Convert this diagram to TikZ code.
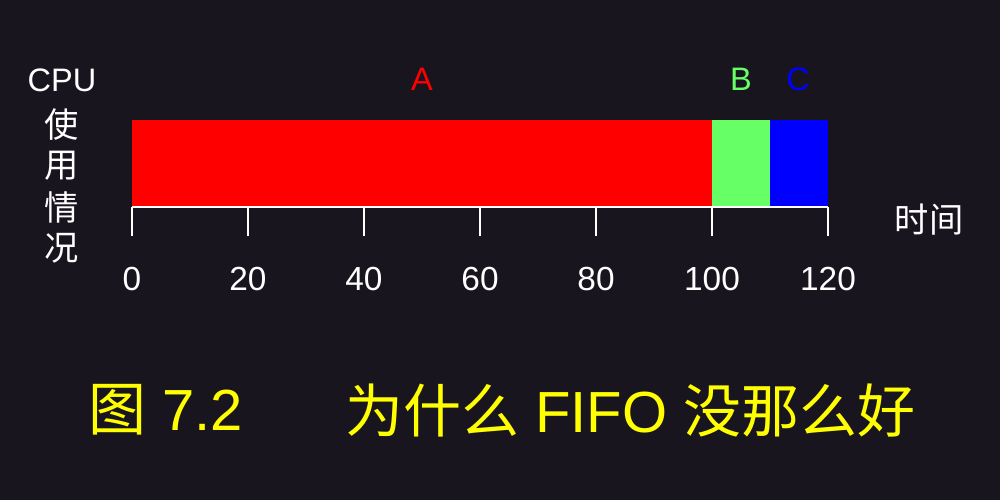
\documentclass[tikz,border=0pt]{standalone}
\usepackage{fontspec}
\setmainfont{Liberation Sans}
\newfontfamily\cjk{Noto Sans CJK SC}
\usetikzlibrary{positioning}
\definecolor{bgDark}{RGB}{24,21,30}
\definecolor{jobA}{HTML}{FF0000}
\definecolor{jobB}{HTML}{66FF66}
\definecolor{jobC}{HTML}{0000FF}
\definecolor{capYellow}{HTML}{FFFF00}

\begin{document}
\begin{tikzpicture}[
    x=0.2mm, y=-0.2mm,
    lbl/.style={font=\fontsize{18.5pt}{20pt}\selectfont, inner sep=0pt},
    cjklbl/.style={font=\cjk\fontsize{19.5pt}{21pt}\selectfont, text=white, inner sep=0pt},
    ticklbl/.style={font=\fontsize{19pt}{21pt}\selectfont, text=white, inner sep=0pt},
    caption/.style={font=\fontsize{33pt}{36pt}\selectfont, text=capYellow, inner sep=0pt},
  ]
    \fill[bgDark] (0,0) rectangle (1000,500);

    % bar segments
    \fill[jobA] (132,120) rectangle (712,207);
    \fill[jobB] (712,120) rectangle (770,207);
    \fill[jobC] (770,120) rectangle (828,207);

    % axis and ticks
    \draw[white, line width=1.2pt] (132,207) -- (828,207);
    \foreach \t in {0,20,...,120}{
      \draw[white, line width=1.2pt] ({132+5.8*\t},207) -- ({132+5.8*\t},236);
      \node[ticklbl] (t\t) at ({132+5.8*\t},279) {\t};
    }

    \node[lbl, text=jobA] (la) at (422,79) {A};
    \node[lbl, text=jobB] (lb) at (741,79) {B};
    \node[lbl, text=jobC] (lc) at (798,79) {C};

    \node[lbl, text=white] (cpu) at (62,80) {CPU};
    \node[cjklbl] (y1) at (62,125) {使};
    \node[cjklbl] (y2) at (62,166) {用};
    \node[cjklbl] (y3) at (62,207) {情};
    \node[cjklbl] (y4) at (62,248) {况};
    \node[cjklbl] (xl) at (929,220) {时间};

    \node[caption, anchor=west] (fig) at (88,410) {{\cjk 图} 7.2};
    \node[caption, anchor=west] (ttl) at (345,410) {{\cjk 为什么} FIFO {\cjk 没那么好}};
\end{tikzpicture}
\end{document}
